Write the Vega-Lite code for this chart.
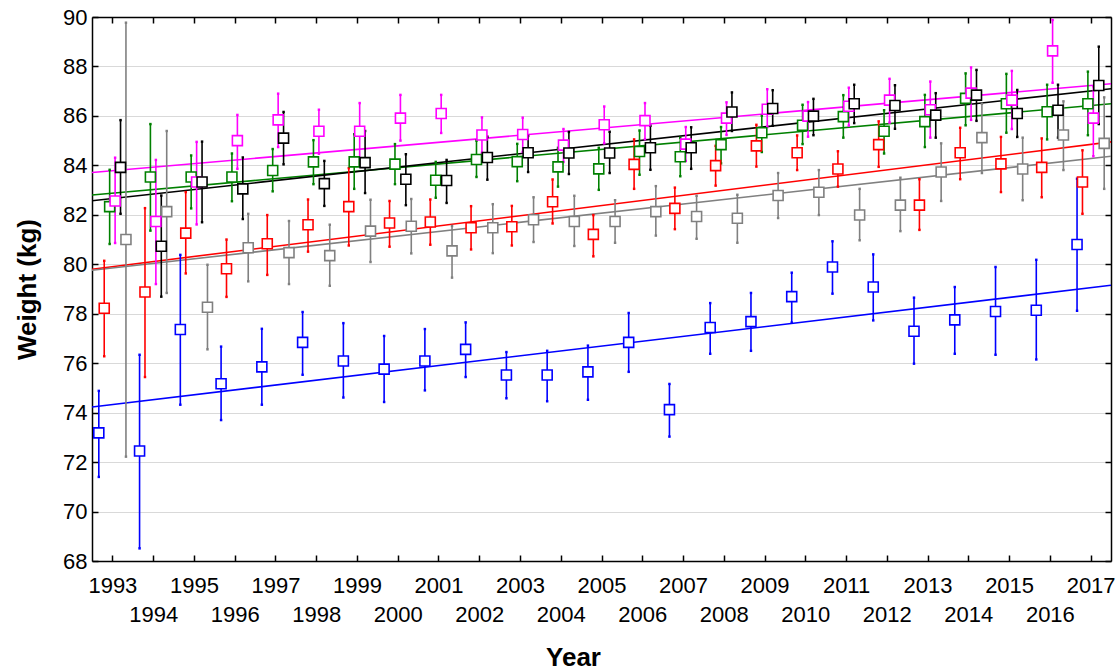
{
  "$schema": "https://vega.github.io/schema/vega-lite/v6.json",
  "width": 1019,
  "height": 544,
  "autosize": "none",
  "padding": {"left": 92, "top": 17, "right": 8, "bottom": 111},
  "background": "white",
  "config": {"view": {"stroke": null}, "font": "Liberation Sans"},
  "datasets": {
    "fit": [
      {"s": "blue", "t": 1992.5, "w": 74.23}, {"s": "blue", "t": 2017.5, "w": 79.15},
      {"s": "red", "t": 1992.5, "w": 79.80}, {"s": "red", "t": 2017.5, "w": 84.95},
      {"s": "gray", "t": 1992.5, "w": 79.76}, {"s": "gray", "t": 2017.5, "w": 84.37},
      {"s": "green", "t": 1992.5, "w": 82.80}, {"s": "green", "t": 2017.5, "w": 86.49},
      {"s": "black", "t": 1992.5, "w": 82.57}, {"s": "black", "t": 2017.5, "w": 87.10},
      {"s": "magenta", "t": 1992.5, "w": 83.71}, {"s": "magenta", "t": 2017.5, "w": 87.30}
    ],
    "pts": [
      {"s": "blue", "t": 1992.667, "m": 73.18, "lo": 71.40, "hi": 74.88},
      {"s": "blue", "t": 1993.667, "m": 72.45, "lo": 68.51, "hi": 76.34},
      {"s": "blue", "t": 1994.667, "m": 77.36, "lo": 74.32, "hi": 80.38},
      {"s": "blue", "t": 1995.667, "m": 75.17, "lo": 73.70, "hi": 76.67},
      {"s": "blue", "t": 1996.667, "m": 75.85, "lo": 74.32, "hi": 77.39},
      {"s": "blue", "t": 1997.667, "m": 76.84, "lo": 75.53, "hi": 78.07},
      {"s": "blue", "t": 1998.667, "m": 76.09, "lo": 74.61, "hi": 77.62},
      {"s": "blue", "t": 1999.667, "m": 75.76, "lo": 74.43, "hi": 77.10},
      {"s": "blue", "t": 2000.667, "m": 76.09, "lo": 74.90, "hi": 77.38},
      {"s": "blue", "t": 2001.667, "m": 76.56, "lo": 75.44, "hi": 77.65},
      {"s": "blue", "t": 2002.667, "m": 75.52, "lo": 74.58, "hi": 76.45},
      {"s": "blue", "t": 2003.667, "m": 75.52, "lo": 74.46, "hi": 76.50},
      {"s": "blue", "t": 2004.667, "m": 75.65, "lo": 74.52, "hi": 76.71},
      {"s": "blue", "t": 2005.667, "m": 76.84, "lo": 75.65, "hi": 78.03},
      {"s": "blue", "t": 2006.667, "m": 74.12, "lo": 73.03, "hi": 75.16},
      {"s": "blue", "t": 2007.667, "m": 77.44, "lo": 76.38, "hi": 78.43},
      {"s": "blue", "t": 2008.667, "m": 77.68, "lo": 76.50, "hi": 78.84},
      {"s": "blue", "t": 2009.667, "m": 78.69, "lo": 77.64, "hi": 79.66},
      {"s": "blue", "t": 2010.667, "m": 79.89, "lo": 78.81, "hi": 80.93},
      {"s": "blue", "t": 2011.667, "m": 79.08, "lo": 77.73, "hi": 80.40},
      {"s": "blue", "t": 2012.667, "m": 77.29, "lo": 75.98, "hi": 78.65},
      {"s": "blue", "t": 2013.667, "m": 77.75, "lo": 76.38, "hi": 79.08},
      {"s": "blue", "t": 2014.667, "m": 78.09, "lo": 76.34, "hi": 79.89},
      {"s": "blue", "t": 2015.667, "m": 78.14, "lo": 76.15, "hi": 80.18},
      {"s": "blue", "t": 2016.667, "m": 80.80, "lo": 78.12, "hi": 83.46},
      {"s": "red", "t": 1992.8, "m": 78.22, "lo": 76.28, "hi": 80.14},
      {"s": "red", "t": 1993.8, "m": 78.88, "lo": 75.44, "hi": 82.27},
      {"s": "red", "t": 1994.8, "m": 81.26, "lo": 79.63, "hi": 82.92},
      {"s": "red", "t": 1995.8, "m": 79.82, "lo": 78.68, "hi": 81.00},
      {"s": "red", "t": 1996.8, "m": 80.83, "lo": 79.57, "hi": 81.99},
      {"s": "red", "t": 1997.8, "m": 81.60, "lo": 80.51, "hi": 82.62},
      {"s": "red", "t": 1998.8, "m": 82.33, "lo": 80.76, "hi": 83.89},
      {"s": "red", "t": 1999.8, "m": 81.67, "lo": 80.71, "hi": 82.56},
      {"s": "red", "t": 2000.8, "m": 81.71, "lo": 80.79, "hi": 82.62},
      {"s": "red", "t": 2001.8, "m": 81.48, "lo": 80.60, "hi": 82.35},
      {"s": "red", "t": 2002.8, "m": 81.52, "lo": 80.76, "hi": 82.36},
      {"s": "red", "t": 2003.8, "m": 82.53, "lo": 81.65, "hi": 83.43},
      {"s": "red", "t": 2004.8, "m": 81.21, "lo": 80.32, "hi": 81.99},
      {"s": "red", "t": 2005.8, "m": 84.04, "lo": 83.05, "hi": 85.05},
      {"s": "red", "t": 2006.8, "m": 82.26, "lo": 81.42, "hi": 83.10},
      {"s": "red", "t": 2007.8, "m": 83.99, "lo": 83.18, "hi": 84.79},
      {"s": "red", "t": 2008.8, "m": 84.79, "lo": 83.95, "hi": 85.64},
      {"s": "red", "t": 2009.8, "m": 84.51, "lo": 83.81, "hi": 85.21},
      {"s": "red", "t": 2010.8, "m": 83.85, "lo": 83.14, "hi": 84.57},
      {"s": "red", "t": 2011.8, "m": 84.84, "lo": 83.94, "hi": 85.78},
      {"s": "red", "t": 2012.8, "m": 82.39, "lo": 81.39, "hi": 83.44},
      {"s": "red", "t": 2013.8, "m": 84.51, "lo": 83.44, "hi": 85.52},
      {"s": "red", "t": 2014.8, "m": 84.06, "lo": 82.92, "hi": 85.15},
      {"s": "red", "t": 2015.8, "m": 83.92, "lo": 82.71, "hi": 85.09},
      {"s": "red", "t": 2016.8, "m": 83.33, "lo": 82.04, "hi": 84.61},
      {"s": "gray", "t": 1993.333, "m": 81.00, "lo": 72.22, "hi": 89.77},
      {"s": "gray", "t": 1994.333, "m": 82.13, "lo": 78.84, "hi": 85.39},
      {"s": "gray", "t": 1995.333, "m": 78.26, "lo": 76.56, "hi": 79.98},
      {"s": "gray", "t": 1996.333, "m": 80.67, "lo": 79.31, "hi": 82.04},
      {"s": "gray", "t": 1997.333, "m": 80.47, "lo": 79.20, "hi": 81.75},
      {"s": "gray", "t": 1998.333, "m": 80.35, "lo": 79.13, "hi": 81.60},
      {"s": "gray", "t": 1999.333, "m": 81.34, "lo": 80.09, "hi": 82.61},
      {"s": "gray", "t": 2000.333, "m": 81.54, "lo": 80.44, "hi": 82.64},
      {"s": "gray", "t": 2001.333, "m": 80.54, "lo": 79.46, "hi": 81.55},
      {"s": "gray", "t": 2002.333, "m": 81.48, "lo": 80.45, "hi": 82.43},
      {"s": "gray", "t": 2003.333, "m": 81.80, "lo": 80.90, "hi": 82.71},
      {"s": "gray", "t": 2004.333, "m": 81.73, "lo": 80.74, "hi": 82.77},
      {"s": "gray", "t": 2005.333, "m": 81.73, "lo": 80.87, "hi": 82.59},
      {"s": "gray", "t": 2006.333, "m": 82.13, "lo": 81.16, "hi": 83.16},
      {"s": "gray", "t": 2007.333, "m": 81.93, "lo": 81.03, "hi": 82.77},
      {"s": "gray", "t": 2008.333, "m": 81.86, "lo": 80.87, "hi": 82.81},
      {"s": "gray", "t": 2009.333, "m": 82.78, "lo": 81.87, "hi": 83.69},
      {"s": "gray", "t": 2010.333, "m": 82.91, "lo": 81.99, "hi": 83.81},
      {"s": "gray", "t": 2011.333, "m": 81.99, "lo": 80.97, "hi": 83.05},
      {"s": "gray", "t": 2012.333, "m": 82.39, "lo": 81.34, "hi": 83.50},
      {"s": "gray", "t": 2013.333, "m": 83.73, "lo": 82.56, "hi": 84.89},
      {"s": "gray", "t": 2014.333, "m": 85.12, "lo": 83.69, "hi": 86.49},
      {"s": "gray", "t": 2015.333, "m": 83.85, "lo": 82.59, "hi": 85.12},
      {"s": "gray", "t": 2016.333, "m": 85.23, "lo": 83.81, "hi": 86.59},
      {"s": "gray", "t": 2017.333, "m": 84.89, "lo": 83.05, "hi": 86.75},
      {"s": "green", "t": 1992.933, "m": 82.33, "lo": 80.82, "hi": 83.82},
      {"s": "green", "t": 1993.933, "m": 83.53, "lo": 81.36, "hi": 85.67},
      {"s": "green", "t": 1994.933, "m": 83.53, "lo": 82.26, "hi": 84.40},
      {"s": "green", "t": 1995.933, "m": 83.53, "lo": 82.55, "hi": 84.48},
      {"s": "green", "t": 1996.933, "m": 83.79, "lo": 82.95, "hi": 84.66},
      {"s": "green", "t": 1997.933, "m": 84.14, "lo": 83.24, "hi": 85.02},
      {"s": "green", "t": 1998.933, "m": 84.14, "lo": 83.05, "hi": 85.26},
      {"s": "green", "t": 1999.933, "m": 84.05, "lo": 83.24, "hi": 84.86},
      {"s": "green", "t": 2000.933, "m": 83.40, "lo": 82.69, "hi": 84.14},
      {"s": "green", "t": 2001.933, "m": 84.24, "lo": 83.53, "hi": 85.00},
      {"s": "green", "t": 2002.933, "m": 84.15, "lo": 83.36, "hi": 84.87},
      {"s": "green", "t": 2003.933, "m": 83.94, "lo": 83.14, "hi": 84.71},
      {"s": "green", "t": 2004.933, "m": 83.86, "lo": 83.01, "hi": 84.71},
      {"s": "green", "t": 2005.933, "m": 84.56, "lo": 83.62, "hi": 85.41},
      {"s": "green", "t": 2006.933, "m": 84.35, "lo": 83.56, "hi": 85.12},
      {"s": "green", "t": 2007.933, "m": 84.84, "lo": 84.08, "hi": 85.55},
      {"s": "green", "t": 2008.933, "m": 85.32, "lo": 84.54, "hi": 86.01},
      {"s": "green", "t": 2009.933, "m": 85.62, "lo": 84.86, "hi": 86.45},
      {"s": "green", "t": 2010.933, "m": 85.97, "lo": 85.12, "hi": 86.84},
      {"s": "green", "t": 2011.933, "m": 85.38, "lo": 84.48, "hi": 86.23},
      {"s": "green", "t": 2012.933, "m": 85.77, "lo": 84.74, "hi": 86.85},
      {"s": "green", "t": 2013.933, "m": 86.71, "lo": 85.62, "hi": 87.72},
      {"s": "green", "t": 2014.933, "m": 86.49, "lo": 85.32, "hi": 87.70},
      {"s": "green", "t": 2015.933, "m": 86.17, "lo": 85.05, "hi": 87.26},
      {"s": "green", "t": 2016.933, "m": 86.49, "lo": 85.22, "hi": 87.79},
      {"s": "magenta", "t": 1993.067, "m": 82.56, "lo": 80.86, "hi": 84.31},
      {"s": "magenta", "t": 1994.067, "m": 81.73, "lo": 79.20, "hi": 84.22},
      {"s": "magenta", "t": 1995.067, "m": 83.33, "lo": 81.61, "hi": 84.95},
      {"s": "magenta", "t": 1996.067, "m": 85.00, "lo": 83.86, "hi": 86.04},
      {"s": "magenta", "t": 1997.067, "m": 85.84, "lo": 84.74, "hi": 86.90},
      {"s": "magenta", "t": 1998.067, "m": 85.38, "lo": 84.47, "hi": 86.25},
      {"s": "magenta", "t": 1999.067, "m": 85.38, "lo": 84.21, "hi": 86.52},
      {"s": "magenta", "t": 2000.067, "m": 85.91, "lo": 85.00, "hi": 86.85},
      {"s": "magenta", "t": 2001.067, "m": 86.10, "lo": 85.31, "hi": 86.85},
      {"s": "magenta", "t": 2002.067, "m": 85.23, "lo": 84.51, "hi": 85.94},
      {"s": "magenta", "t": 2003.067, "m": 85.25, "lo": 84.54, "hi": 85.93},
      {"s": "magenta", "t": 2004.067, "m": 84.82, "lo": 84.14, "hi": 85.47},
      {"s": "magenta", "t": 2005.067, "m": 85.64, "lo": 84.89, "hi": 86.38},
      {"s": "magenta", "t": 2006.067, "m": 85.81, "lo": 85.06, "hi": 86.52},
      {"s": "magenta", "t": 2007.067, "m": 84.86, "lo": 84.18, "hi": 85.55},
      {"s": "magenta", "t": 2008.067, "m": 85.91, "lo": 85.23, "hi": 86.55},
      {"s": "magenta", "t": 2009.067, "m": 86.27, "lo": 85.55, "hi": 87.08},
      {"s": "magenta", "t": 2010.067, "m": 85.99, "lo": 85.16, "hi": 86.56},
      {"s": "magenta", "t": 2011.067, "m": 86.39, "lo": 85.61, "hi": 87.14},
      {"s": "magenta", "t": 2012.067, "m": 86.64, "lo": 85.73, "hi": 87.50},
      {"s": "magenta", "t": 2013.067, "m": 86.25, "lo": 85.12, "hi": 87.39},
      {"s": "magenta", "t": 2014.067, "m": 86.92, "lo": 85.84, "hi": 87.96},
      {"s": "magenta", "t": 2015.067, "m": 86.64, "lo": 85.47, "hi": 87.82},
      {"s": "magenta", "t": 2016.067, "m": 88.63, "lo": 87.34, "hi": 89.88},
      {"s": "magenta", "t": 2017.067, "m": 85.91, "lo": 84.37, "hi": 87.20},
      {"s": "black", "t": 1993.2, "m": 83.92, "lo": 82.04, "hi": 85.83},
      {"s": "black", "t": 1994.2, "m": 80.73, "lo": 78.69, "hi": 82.78},
      {"s": "black", "t": 1995.2, "m": 83.33, "lo": 81.70, "hi": 84.96},
      {"s": "black", "t": 1996.2, "m": 83.05, "lo": 81.83, "hi": 84.32},
      {"s": "black", "t": 1997.2, "m": 85.10, "lo": 84.04, "hi": 86.16},
      {"s": "black", "t": 1998.2, "m": 83.26, "lo": 82.36, "hi": 84.18},
      {"s": "black", "t": 1999.2, "m": 84.11, "lo": 82.88, "hi": 85.39},
      {"s": "black", "t": 2000.2, "m": 83.44, "lo": 82.39, "hi": 84.45},
      {"s": "black", "t": 2001.2, "m": 83.39, "lo": 82.48, "hi": 84.22},
      {"s": "black", "t": 2002.2, "m": 84.32, "lo": 83.42, "hi": 85.16},
      {"s": "black", "t": 2003.2, "m": 84.51, "lo": 83.73, "hi": 85.19},
      {"s": "black", "t": 2004.2, "m": 84.50, "lo": 83.65, "hi": 85.35},
      {"s": "black", "t": 2005.2, "m": 84.50, "lo": 83.69, "hi": 85.36},
      {"s": "black", "t": 2006.2, "m": 84.71, "lo": 83.82, "hi": 85.60},
      {"s": "black", "t": 2007.2, "m": 84.71, "lo": 83.86, "hi": 85.54},
      {"s": "black", "t": 2008.2, "m": 86.16, "lo": 85.39, "hi": 86.95},
      {"s": "black", "t": 2009.2, "m": 86.30, "lo": 85.60, "hi": 87.04},
      {"s": "black", "t": 2010.2, "m": 85.99, "lo": 85.22, "hi": 86.69},
      {"s": "black", "t": 2011.2, "m": 86.49, "lo": 85.71, "hi": 87.26},
      {"s": "black", "t": 2012.2, "m": 86.42, "lo": 85.48, "hi": 87.24},
      {"s": "black", "t": 2013.2, "m": 86.03, "lo": 85.12, "hi": 86.92},
      {"s": "black", "t": 2014.2, "m": 86.84, "lo": 85.80, "hi": 87.86},
      {"s": "black", "t": 2015.2, "m": 86.10, "lo": 85.15, "hi": 87.05},
      {"s": "black", "t": 2016.2, "m": 86.23, "lo": 85.12, "hi": 87.26},
      {"s": "black", "t": 2017.2, "m": 87.23, "lo": 85.67, "hi": 88.80}
    ]
  },
  "layer": [
    {
      "data": {"name": "fit"},
      "mark": {"type": "line", "strokeWidth": 1.6, "clip": true},
      "encoding": {
        "x": {"field": "t", "type": "quantitative",
          "scale": {"domain": [1992.5, 2017.5], "nice": false, "zero": false},
          "axis": {"orient": "bottom", "values": [1993,1994,1995,1996,1997,1998,1999,2000,2001,2002,2003,2004,2005,2006,2007,2008,2009,2010,2011,2012,2013,2014,2015,2016,2017],
            "format": "d", "labelExpr": "datum.value % 2 == 0 ? ['', datum.label] : datum.label",
            "labelLineHeight": 29, "labelFontSize": 22, "labelColor": "black", "labelPadding": 20,
            "labelOverlap": false, "labelFlush": false, "labelBaseline": "top",
            "tickSize": -6, "tickColor": "black", "tickWidth": 1.5, "domainColor": "black", "domainWidth": 1.5, "grid": false,
            "title": "Year", "titleFontSize": 26, "titleFontWeight": "bold", "titleColor": "black",
            "titleX": 481, "titleY": 96, "titleAlign": "center", "titleBaseline": "middle"}},
        "y": {"field": "w", "type": "quantitative",
          "scale": {"domain": [68, 90], "nice": false, "zero": false},
          "axis": {"orient": "left", "values": [68,70,72,74,76,78,80,82,84,86,88,90],
            "labelFontSize": 22, "labelColor": "black", "labelPadding": 11,
            "tickSize": -6, "tickColor": "black", "tickWidth": 1.5, "domainColor": "black", "domainWidth": 1.5,
            "grid": true, "gridColor": "#d9d9d9", "gridWidth": 1,
            "title": "Weight (kg)", "titleFontSize": 26, "titleFontWeight": "bold", "titleColor": "black",
            "titleX": -65, "titleY": 272, "titleAngle": -90, "titleAlign": "center", "titleBaseline": "middle"}},
        "color": {"field": "s", "type": "nominal",
          "scale": {"domain": ["blue","red","gray","green","black","magenta"], "range": ["#0000ff","#ff0000","#808080","#008000","#000000","#ff00ff"]},
          "legend": null}
      }
    },
    {
      "data": {"name": "pts"},
      "mark": {"type": "rule", "strokeWidth": 1.6},
      "encoding": {
        "x": {"field": "t", "type": "quantitative",
          "axis": {"orient": "top", "values": [1993,1994,1995,1996,1997,1998,1999,2000,2001,2002,2003,2004,2005,2006,2007,2008,2009,2010,2011,2012,2013,2014,2015,2016,2017],
            "labels": false, "title": null, "tickSize": -6, "tickColor": "black", "tickWidth": 1.5, "domainColor": "black", "domainWidth": 1.5, "grid": false}},
        "y": {"field": "lo", "type": "quantitative",
          "axis": {"orient": "right", "values": [68,70,72,74,76,78,80,82,84,86,88,90],
            "labels": false, "title": null, "tickSize": -6, "tickColor": "black", "tickWidth": 1.5, "domainColor": "black", "domainWidth": 1.5, "grid": false}},
        "y2": {"field": "hi"},
        "color": {"field": "s", "type": "nominal", "legend": null}
      }
    },
    {
      "data": {"name": "pts"},
      "mark": {"type": "point", "shape": "square", "filled": true, "size": 6, "opacity": 1},
      "encoding": {
        "x": {"field": "t", "type": "quantitative", "axis": null},
        "y": {"field": "lo", "type": "quantitative", "axis": null},
        "color": {"field": "s", "type": "nominal", "legend": null}
      }
    },
    {
      "data": {"name": "pts"},
      "mark": {"type": "point", "shape": "square", "filled": true, "size": 6, "opacity": 1},
      "encoding": {
        "x": {"field": "t", "type": "quantitative", "axis": null},
        "y": {"field": "hi", "type": "quantitative", "axis": null},
        "color": {"field": "s", "type": "nominal", "legend": null}
      }
    },
    {
      "data": {"name": "pts"},
      "mark": {"type": "point", "shape": "square", "size": 100, "strokeWidth": 1.6, "fill": "white", "fillOpacity": 1, "opacity": 1},
      "encoding": {
        "x": {"field": "t", "type": "quantitative", "axis": null},
        "y": {"field": "m", "type": "quantitative", "axis": null},
        "stroke": {"field": "s", "type": "nominal", "scale": {"domain": ["blue","red","gray","green","black","magenta"], "range": ["#0000ff","#ff0000","#808080","#008000","#000000","#ff00ff"]}, "legend": null}
      }
    }
  ]
}
